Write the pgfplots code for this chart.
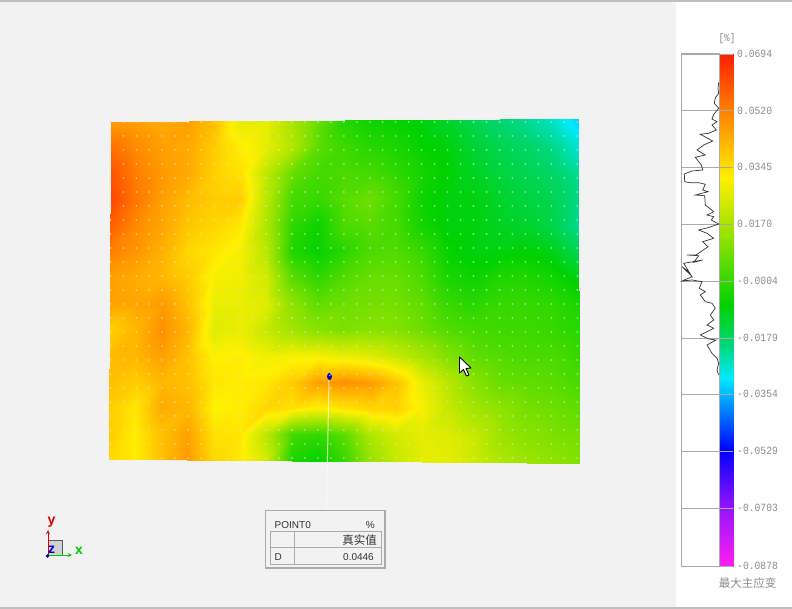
\documentclass[border=0pt]{standalone}
\usepackage{fontspec}
\usepackage{pgfplots}
\usepackage{pgfplotstable}
\pgfplotsset{compat=1.18}
\setmainfont{Liberation Sans}
\newfontfamily\gmono{Liberation Mono}
\newfontfamily\cjk{Noto Sans CJK SC}
\definecolor{bggray}{RGB}{242,242,242}
\definecolor{framegray}{RGB}{170,170,170}
\definecolor{labelgray}{RGB}{140,140,140}
\definecolor{inkgray}{RGB}{50,50,50}
\definecolor{dotgray}{RGB}{225,225,225}

% strain field in units of 0.001, 19 columns by 14 rows
\pgfplotstableread[row sep=\\]{
v\\
47\\46\\44\\46\\40\\27\\27\\17\\6\\-3\\-6\\-7\\-9\\-12\\-16\\-19\\-22\\-26\\-33\\
55\\50\\46\\44\\38\\32\\27\\18\\5\\1\\-2\\-4\\-7\\-9\\-13\\-16\\-18\\-21\\-27\\
60\\52\\47\\44\\37\\34\\20\\7\\2\\3\\2\\-1\\-5\\-8\\-11\\-14\\-16\\-18\\-22\\
62\\53\\46\\41\\38\\38\\20\\2\\0\\5\\8\\2\\-6\\-9\\-9\\-12\\-14\\-16\\-21\\
58\\50\\45\\39\\36\\33\\18\\-1\\-6\\3\\5\\2\\-5\\-9\\-9\\-11\\-12\\-15\\-22\\
52\\48\\43\\36\\33\\30\\20\\-3\\-7\\-2\\3\\4\\0\\-7\\-9\\-9\\-8\\-10\\-16\\
46\\44\\42\\38\\30\\29\\24\\5\\-1\\4\\7\\7\\3\\-4\\-6\\-3\\-3\\-5\\-9\\
46\\45\\47\\40\\28\\28\\26\\13\\6\\8\\9\\9\\6\\0\\-2\\0\\0\\-1\\-4\\
37\\42\\49\\42\\26\\28\\22\\16\\12\\10\\12\\11\\8\\4\\2\\1\\1\\0\\-2\\
41\\42\\46\\40\\31\\32\\29\\30\\30\\28\\26\\22\\17\\11\\6\\4\\3\\3\\0\\
40\\38\\42\\40\\33\\32\\33\\38\\46\\49\\47\\40\\28\\20\\12\\7\\6\\5\\3\\
38\\33\\44\\42\\31\\32\\36\\34\\31\\33\\36\\37\\30\\22\\16\\13\\9\\8\\6\\
38\\32\\40\\46\\34\\33\\20\\2\\-1\\5\\18\\24\\27\\26\\22\\15\\12\\10\\9\\
36\\32\\40\\47\\36\\33\\24\\-4\\-7\\0\\14\\22\\27\\27\\23\\18\\15\\13\\11\\
}\field
\pgfplotstablecreatecol[copy column from table={\field}{v}]{w}\field

% x positions of the faint measuring points
\pgfplotstableread[row sep=\\]{
x\\110.5\\123.3\\136.3\\149.2\\162.2\\175.2\\188.2\\201.1\\214.1\\227.1\\240\\253\\266\\279\\292\\304.9\\317.9\\330.9\\343.8\\356.8\\369.8\\382.7\\395.7\\408.7\\421.7\\434.6\\447.6\\460.6\\473.5\\486.5\\499.5\\512.4\\525.4\\538.4\\551.4\\564.3\\577.3\\
}\dotx
\pgfplotstablecreatecol[copy column from table={\dotx}{x}]{w}\dotx

\newcommand\barlab[2]{\node[anchor=west, inner sep=0pt, text=labelgray, font=\gmono\fontsize{11}{11}\selectfont] at (737,#1) {\scalebox{0.88}[1]{#2}};}

\begin{document}
\begin{tikzpicture}
\begin{axis}[
    scale only axis, width=792pt, height=609pt,
    xmin=0, xmax=792, ymin=0, ymax=609, y dir=reverse,
    ticks=none, axis line style={draw=none},
    axis background/.style={fill=bggray},
    colormap={strain}{
        rgb255(0pt)=(255,30,240) rgb255(58pt)=(150,20,255)
        rgb255(116pt)=(0,0,255) rgb255(188pt)=(0,235,255)
        rgb255(221pt)=(0,215,120) rgb255(261pt)=(0,210,0)
        rgb255(321pt)=(130,225,0) rgb255(388pt)=(255,240,0)
        rgb255(448pt)=(255,140,0) rgb255(512pt)=(255,30,0)},
    point meta min=-87.8, point meta max=69.4,
]
% right panel and window edges
\fill[white] (675.5,0) rectangle (792,609);
\fill[black!25] (0,0) rectangle (792,2.2);
\fill[black!25] (0,606.5) rectangle (792,609);

% strain map
\addplot[surf, shader=interp, mesh/cols=19, point meta=\thisrow{v}]
    table[
    x expr={111-2*(floor((\coordindex+0.5)/19)/13)+(mod(\coordindex,19)/18)*(467+3*(floor((\coordindex+0.5)/19)/13))},
    y expr={122-3*(mod(\coordindex,19)/18)+(floor((\coordindex+0.5)/19)/13)*(337+7*(mod(\coordindex,19)/18))}]
    {\field};

% measuring points
\pgfplotsinvokeforeach{122,136,150,164,178,192,206,220,234,248,262,276,290,304,318,332,346,360,374,388,402,416,430,444,458}{
    \addplot[only marks, mark=*, mark size=0.75pt, color=dotgray,
        mark options={draw=none, fill=dotgray, opacity=0.5}]
        table[x=x, y expr=#1] {\dotx};
}

% colour bar
\addplot[surf, shader=interp, mesh/cols=2, point meta=\thisrow{v}] table {
x y v
719 54 69.4
733 54 69.4
719 566 -87.8
733 566 -87.8
};
\draw[framegray, line width=1pt] (681,54) rectangle (719,566);
\pgfplotsinvokeforeach{54,110.6,167,224,281,338,394,451,508,566}{
    \draw[framegray, line width=0.9pt] (681,#1) -- (733,#1);
}

% histogram beside the colour bar
\addplot[black!80, line width=0.7pt] coordinates {
(718.7,82.3)(718,88.3)(718.7,93.3)(715.3,97.7)(714.3,103.3)(718.7,108.3)(713.7,114.3)(712,119)
(717,121.7)(712,125)(716.3,130)(708.7,133.3)(700.3,134.3)(712.7,141)(703.7,145)(697,150)
(705.3,155)(695.3,157.3)(701.3,165)(702.7,170)(692,171)(684.3,174)(684.7,181.7)(690.3,182.7)
(698.7,182.7)(705.3,184.3)(702.7,190)(708,191.7)(695.3,195)(704.7,195.7)(705.3,205)(713.7,211.7)
(707,215)(713.7,216.7)(711.3,220)(718.7,224)(708,227.7)(698.7,230)(707,233.3)(713.7,238.3)
(702.7,241.7)(708,246.7)(696,255)(687,255)(698.7,255.7)(693.7,262.3)(702.7,260)(683.7,263.3)
(691.3,275.7)(682,266.7)(688.7,271.7)(692,276.7)(682,281)(692,280)(702,281.7)(699.3,288.3)
(705.3,291.7)(700.3,295)(705.3,301.7)(712,303.3)(715.3,308.3)(710.3,315)(713.7,320)(707,325)
(713.7,328.3)(700.3,335)(708.7,339)(716,340)(707,345)(712,353.3)(717,358.3)(718.7,363.3)
(717,370)(718.7,375)
};

% colour bar labels
\node[text=labelgray, inner sep=0pt, font=\gmono\fontsize{11}{11}\selectfont] at (727,39) {\scalebox{0.85}[1]{[\%]}};
\barlab{54}{0.0694}
\barlab{110.6}{0.0520}
\barlab{167}{0.0345}
\barlab{224}{0.0170}
\barlab{281}{-0.0004}
\barlab{338}{-0.0179}
\barlab{394}{-0.0354}
\barlab{451}{-0.0529}
\barlab{508}{-0.0703}
\barlab{566}{-0.0878}
\node[anchor=center, text=labelgray, font=\cjk\fontsize{11.5}{11.5}\selectfont] at (747.5,583) {最大主应变};

% picked point, its leader and the readout box
\draw[white!90!yellow, line width=1pt, opacity=0.75] (329,378) -- (326.5,510);
\fill[blue!70!black] (329.5,376.5) ellipse (2.4 and 3.6);
\fill[white!60!blue] (329.8,375.5) circle (0.9);
\fill[bggray, draw=framegray, line width=1.6pt] (265.5,510.5) rectangle (385,568);
\draw[framegray, line width=0.9pt] (270,531.5) rectangle (381,564) (270,547.5) -- (381,547.5) (294,531.5) -- (294,564);
\node[anchor=west, inner sep=0pt, text=inkgray, font=\fontsize{10}{10}\selectfont] at (274.5,525) {POINT0};
\node[anchor=east, inner sep=0pt, text=inkgray, font=\fontsize{10}{10}\selectfont] at (375,525) {\%};
\node[anchor=east, inner sep=0pt, text=inkgray, font=\cjk\fontsize{11.5}{11.5}\selectfont] at (377,540) {真实值};
\node[anchor=west, inner sep=0pt, text=inkgray, font=\fontsize{10}{10}\selectfont] at (274.5,557) {D};
\node[anchor=east, inner sep=0pt, text=inkgray, font=\fontsize{10}{10}\selectfont] at (374,557) {0.0446};

% mouse cursor
\filldraw[fill=white, draw=black, line width=0.9pt, line join=round]
    (459.5,357) -- (459.5,373) -- (463.5,369.5) -- (466.5,376) -- (469,375) -- (466,368.5) -- (471,368) -- cycle;

% orientation triad
\fill[black!18, draw=black!65, line width=0.9pt] (48,540) rectangle (62,555);
\draw[red!85!black, line width=0.9pt, -stealth] (48,555) -- (48,530);
\draw[green!80!black, line width=0.9pt, -stealth] (48,555) -- (72,555);
\fill[blue!80!black] (47.5,556) circle (1.8);
\node[text=red!85!black, inner sep=0pt, font=\bfseries\fontsize{14}{14}\selectfont] at (51.5,522.5) {y};
\node[text=green!80!black, inner sep=0pt, font=\bfseries\fontsize{14}{14}\selectfont] at (79,551) {x};
\node[text=blue!80!black, inner sep=0pt, font=\bfseries\fontsize{14}{14}\selectfont] at (51.5,550) {z};
\end{axis}
\end{tikzpicture}
\end{document}
